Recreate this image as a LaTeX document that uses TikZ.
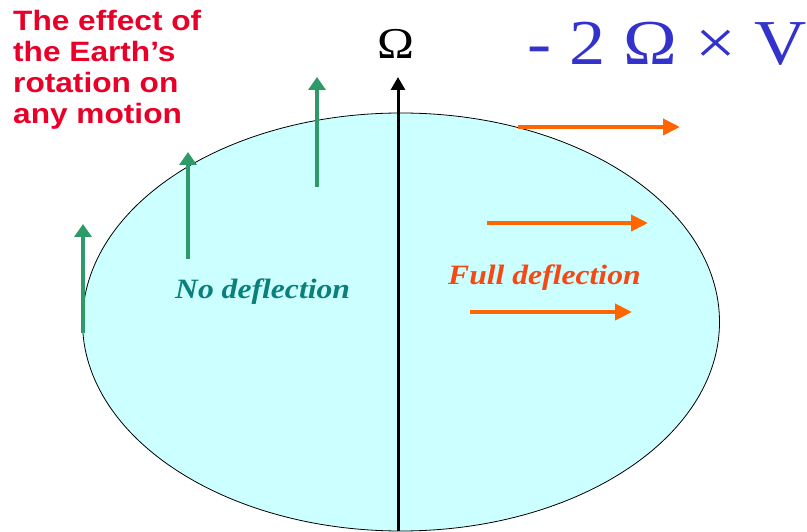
\documentclass[tikz,border=0pt]{standalone}
\usepackage{fontspec}
\setmainfont{Liberation Serif}[FakeStretch=1.13]
\newfontfamily\titlefont{Liberation Sans}[FakeStretch=1.13]
\usetikzlibrary{arrows.meta}
\definecolor{earthfill}{RGB}{204,255,255}
\definecolor{titlered}{RGB}{232,0,40}
\definecolor{nodefl}{RGB}{10,128,124}
\definecolor{fulldefl}{RGB}{245,72,20}
\definecolor{flowgreen}{RGB}{46,154,106}
\definecolor{floworange}{RGB}{255,102,0}
\definecolor{coriblue}{RGB}{51,51,204}
\tikzset{
  upflow/.style={flowgreen,line width=4pt,-{Triangle[length=13pt,width=17pt]}},
  sideflow/.style={floworange,line width=4pt,-{Triangle[length=17pt,width=16pt]}},
  spinaxis/.style={black,line width=3pt,-{Triangle[length=13pt,width=14pt]}},
  label/.style={inner sep=0pt,anchor=base west}
}
\begin{document}
\begin{tikzpicture}[x=1pt,y=1pt]
  \useasboundingbox (0,0) rectangle (807,531);
  % the Earth
  \draw[fill=earthfill,line width=0.8pt] (401,209) ellipse [x radius=318.5,y radius=209];
  % rotation axis
  \draw[spinaxis] (398,0) -- (398,454);
  \node[inner sep=0pt,anchor=base,font=\fontsize{44}{44}\selectfont] (omega) at (396,472) {Ω};
  % motions along the axis
  \draw[upflow] (83,198) -- (83,307);
  \draw[upflow] (188,272) -- (188,379);
  \draw[upflow] (317,344) -- (317,454);
  % motions across the axis
  \draw[sideflow] (518,404) -- (680,404);
  \draw[sideflow] (487,308) -- (648,308);
  \draw[sideflow] (470,219) -- (632,219);
  % texts
  \node[label,anchor=north west,align=left,text=titlered,
        font=\titlefont\bfseries\fontsize{28}{31}\selectfont] (title) at (13,521)
    {The effect of\\the Earth’s\\rotation on\\any motion};
  \node[label,text=nodefl,font=\fontsize{28}{28}\selectfont\bfseries\itshape] (nodeflect) at (175,232)
    {No deflection};
  \node[label,text=fulldefl,font=\fontsize{28}{28}\selectfont\bfseries\itshape] (fulldeflect) at (448,246)
    {Full deflection};
  \node[label,text=coriblue,font=\fontsize{64}{64}\selectfont] (coriolis) at (527,466)
    {- 2 Ω × V};
\end{tikzpicture}
\end{document}
